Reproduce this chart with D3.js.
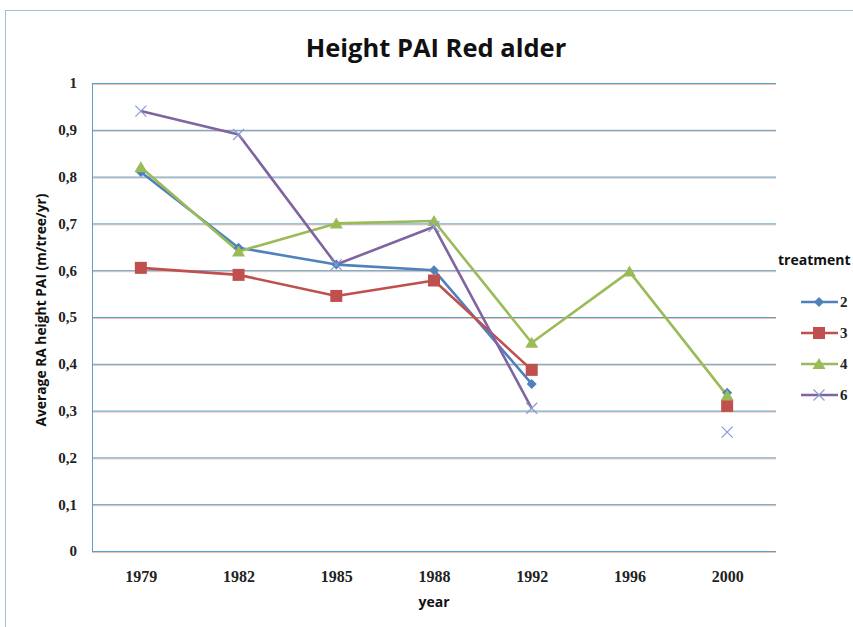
<!DOCTYPE html>
<html>
<head>
<meta charset="utf-8">
<script src="https://cdn.jsdelivr.net/npm/d3@7"></script>
<style>
  body { margin: 0; background: #fff; }
  svg { display: block; }
</style>
</head>
<body>
<div id="chart"></div>
<script>
// data
var years = ["1979", "1982", "1985", "1988", "1992", "1996", "2000"];
var treatments = ["2", "3", "4", "6"];
var t2 = [0.81, 0.648, 0.612, 0.60, 0.357, null, 0.338];
var t3 = [0.605, 0.59, 0.545, 0.578, 0.387, null, 0.31];
var t4 = [0.82, 0.64, 0.70, 0.705, 0.445, 0.597, 0.332];
var t6 = [0.94, 0.89, 0.612, 0.693, 0.305, null, 0.254];
var yTicks = [0, 0.1, 0.2, 0.3, 0.4, 0.5, 0.6, 0.7, 0.8, 0.9, 1];

var width = 853, height = 627;
var margin = { top: 83, right: 77, bottom: 76, left: 92 };

var series = [
  { name: "2", values: t2, color: "#4F81BD", shape: "diamond" },
  { name: "3", values: t3, color: "#C0504D", shape: "square" },
  { name: "4", values: t4, color: "#9BBB59", shape: "triangle" },
  { name: "6", values: t6, color: "#8064A2", shape: "x" }
];

var svg = d3.select("#chart")
  .append("svg")
  .attr("width", width)
  .attr("height", height);

// outer chart border
svg.append("rect")
  .attr("x", 5.5).attr("y", 10.5)
  .attr("width", width).attr("height", height)
  .attr("fill", "none")
  .attr("stroke", "#9fbfd2")
  .attr("stroke-width", 1);

var xScale = d3.scalePoint()
  .domain(years)
  .range([margin.left, width - margin.right])
  .padding(0.5);

var yScale = d3.scaleLinear()
  .domain([0, 1])
  .range([height - margin.bottom, margin.top]);

// grid, blue line with a faint red halo like the original
svg.append("g")
  .attr("transform", `translate(${margin.left},1)`)
  .attr("class", "grid-halo")
  .call(d3.axisLeft(yScale).tickValues(yTicks).tickSize(-(width - margin.right - margin.left)).tickFormat(""))
  .call(g => g.select(".domain").remove())
  .selectAll("line")
  .attr("stroke", "#f2c2b4");

svg.append("g")
  .attr("transform", `translate(${margin.left},0)`)
  .attr("class", "grid")
  .call(d3.axisLeft(yScale).tickValues(yTicks).tickSize(-(width - margin.right - margin.left)).tickFormat(""))
  .call(g => g.select(".domain").remove())
  .selectAll("line")
  .attr("stroke", "#5b9ec6");

// Y axis
var yAxis = svg.append("g")
  .attr("transform", `translate(${margin.left},0)`)
  .attr("class", "y-axis")
  .call(d3.axisLeft(yScale)
    .tickValues(yTicks)
    .tickSize(0)
    .tickPadding(15)
    .tickFormat(d => (d === 0 || d === 1) ? String(d) : d3.format(".1f")(d).replace(".", ",")));
yAxis.select(".domain").attr("stroke", "#5b9ec6");
yAxis.selectAll("text")
  .style("font-family", "'Liberation Serif', serif")
  .style("font-weight", "bold")
  .style("font-size", "15px")
  .attr("fill", "#222");

// X axis
var xAxis = svg.append("g")
  .attr("transform", `translate(0,${height - margin.bottom})`)
  .attr("class", "x-axis")
  .call(d3.axisBottom(xScale).tickSize(0).tickPadding(20));
xAxis.select(".domain")
  .attr("d", `M${margin.left},0.5H${width - margin.right}`)
  .attr("stroke", "#5b9ec6");
xAxis.selectAll("text")
  .style("font-family", "'Liberation Serif', serif")
  .style("font-weight", "bold")
  .style("font-size", "16px")
  .attr("fill", "#222");

// titles
svg.append("text")
  .attr("x", 436).attr("y", 57)
  .attr("text-anchor", "middle")
  .style("font-family", "'Open Sans', sans-serif")
  .style("font-weight", "bold")
  .style("font-size", "25.5px")
  .attr("fill", "#111")
  .text("Height PAI Red alder");

svg.append("text")
  .attr("x", 434).attr("y", 607)
  .attr("text-anchor", "middle")
  .style("font-family", "'Open Sans', sans-serif")
  .style("font-weight", "bold")
  .style("font-size", "14px")
  .attr("fill", "#111")
  .text("year");

svg.append("text")
  .attr("transform", `translate(46,${310}) rotate(-90)`)
  .attr("text-anchor", "middle")
  .style("font-family", "'Open Sans', sans-serif")
  .style("font-weight", "bold")
  .style("font-size", "13.8px")
  .attr("fill", "#111")
  .text("Average RA height PAI (m/tree/yr)");

// marker drawing
function drawMarker(g, shape, color) {
  if (shape === "diamond") {
    g.append("path").attr("d", "M0,-5L5,0L0,5L-5,0Z").attr("fill", color);
  } else if (shape === "square") {
    g.append("rect").attr("x", -6).attr("y", -6).attr("width", 12).attr("height", 12).attr("fill", color);
  } else if (shape === "triangle") {
    g.append("path").attr("d", "M0,-6L6.5,5L-6.5,5Z").attr("fill", color);
  } else {
    g.append("path").attr("d", "M-5.5,-5.5L5.5,5.5M-5.5,5.5L5.5,-5.5")
      .attr("stroke", "#8a9bd0").attr("stroke-width", 1.2).attr("fill", "none");
  }
}

var line = d3.line()
  .defined(d => d.v != null)
  .x(d => xScale(d.year))
  .y(d => yScale(d.v));

var linesG = svg.append("g").attr("class", "lines");

series.forEach(function(s) {
  var pts = years.map((y, i) => ({ year: y, v: s.values[i] }));
  linesG.append("path")
    .datum(pts)
    .attr("d", line)
    .attr("fill", "none")
    .attr("stroke", s.color)
    .attr("stroke-width", 2.6)
    .attr("stroke-linejoin", "round");
});

series.forEach(function(s) {
  var pts = years.map((y, i) => ({ year: y, v: s.values[i] })).filter(d => d.v != null);
  linesG.selectAll(".dot-" + s.name)
    .data(pts)
    .enter()
    .append("g")
    .attr("class", "dot-" + s.name)
    .attr("transform", d => `translate(${xScale(d.year)},${yScale(d.v)})`)
    .each(function() { drawMarker(d3.select(this), s.shape, s.color); });
});

// legend
svg.append("text")
  .attr("x", 778).attr("y", 265)
  .style("font-family", "'Open Sans', sans-serif")
  .style("font-weight", "bold")
  .style("font-size", "14px")
  .attr("fill", "#111")
  .text("treatment");

var legend = svg.append("g").attr("class", "legend");
series.forEach(function(s, i) {
  var gy = 302 + i * 31;
  legend.append("line")
    .attr("x1", 801).attr("x2", 838)
    .attr("y1", gy).attr("y2", gy)
    .attr("stroke", s.color)
    .attr("stroke-width", 2.6);
  var m = legend.append("g").attr("transform", `translate(819,${gy})`);
  drawMarker(m, s.shape, s.color);
  legend.append("text")
    .attr("x", 840).attr("y", gy + 5)
    .style("font-family", "'Liberation Serif', serif")
    .style("font-weight", "bold")
    .style("font-size", "15px")
    .attr("fill", "#222")
    .text(s.name);
});
</script>
</body>
</html>
